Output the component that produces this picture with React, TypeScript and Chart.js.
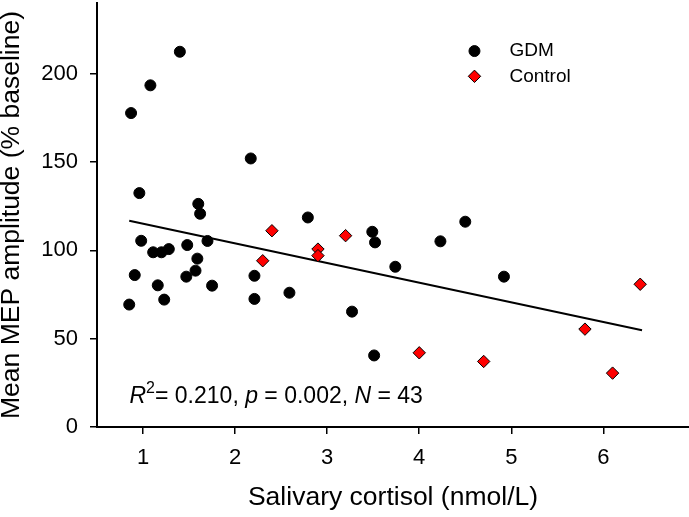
import React, { useEffect, useRef } from 'react';
import { Chart, registerables } from 'chart.js';

Chart.register(...registerables);

// ---- data ----
const seriesLabels = ['GDM', 'Control'];

const gdmX = [1.40, 1.08, 0.87, 2.17, 0.96, 1.60, 1.62, 0.98, 1.11, 1.20, 1.28, 1.48, 1.70, 1.59, 0.91, 1.47, 1.57, 1.16, 1.75, 1.23, 0.85, 2.21, 2.21, 2.59, 2.79, 3.49, 3.52, 4.50, 4.23, 3.74, 3.27, 3.51, 4.92];
const gdmY = [212.4, 193.4, 177.7, 152.0, 132.4, 126.3, 120.7, 105.4, 98.9, 98.9, 100.7, 103.0, 105.3, 95.3, 86.0, 85.1, 88.5, 80.2, 80.0, 72.1, 69.3, 85.6, 72.5, 76.0, 118.6, 110.5, 104.5, 116.2, 105.1, 90.7, 65.3, 40.5, 85.1];

const ctrlX = [2.30, 2.40, 2.90, 2.90, 3.20, 4.00, 4.70, 5.80, 6.10, 6.40];
const ctrlY = [94.1, 111.1, 100.7, 97.0, 108.3, 42.0, 37.1, 55.4, 30.5, 80.8];

const regX = [0.85, 6.42];
const regY = [116.7, 54.8];

const xTicks = [1, 2, 3, 4, 5, 6];
const yTicks = [0, 50, 100, 150, 200];

const xTitle = 'Salivary cortisol (nmol/L)';
const yTitle = 'Mean MEP amplitude (% baseline)';

const statSegments = [
  { text: 'R', italic: true, sup: false },
  { text: '2', italic: false, sup: true },
  { text: '= 0.210, ', italic: false, sup: false },
  { text: 'p', italic: true, sup: false },
  { text: ' = 0.002, ', italic: false, sup: false },
  { text: 'N', italic: true, sup: false },
  { text: ' = 43', italic: false, sup: false },
];

// annotation / legend anchors (in data units)
const statAnchor = { x: 0.853, y: 13.4 };
const legendAnchorX = 4.6;
const legendAnchorY = [212.8, 198.5];

const FAMILY = '"Liberation Sans", Arial, sans-serif';

const markerStyles = [
  { shape: 'circle', radius: 5.5, fill: '#000000', stroke: '#000000' },
  { shape: 'rectRot', radius: 6.2, fill: '#ff0000', stroke: '#000000' },
];

function drawMarker(ctx: CanvasRenderingContext2D, shape: string, x: number, y: number, r: number, fill: string, stroke: string) {
  ctx.beginPath();
  if (shape === 'circle') {
    ctx.arc(x, y, r, 0, Math.PI * 2);
  } else {
    ctx.moveTo(x - r, y);
    ctx.lineTo(x, y - r);
    ctx.lineTo(x + r, y);
    ctx.lineTo(x, y + r);
    ctx.closePath();
  }
  ctx.fillStyle = fill;
  ctx.fill();
  ctx.lineWidth = 1;
  ctx.strokeStyle = stroke;
  ctx.stroke();
}

const statsPlugin = {
  id: 'statsText',
  afterDatasetsDraw(chart: any) {
    const { ctx, scales } = chart;
    let px = scales.x.getPixelForValue(statAnchor.x);
    const py = scales.y.getPixelForValue(statAnchor.y);
    ctx.save();
    ctx.fillStyle = '#000';
    ctx.textAlign = 'left';
    ctx.textBaseline = 'alphabetic';
    for (const seg of statSegments) {
      ctx.font = `${seg.italic ? 'italic ' : ''}${seg.sup ? 16 : 23}px ${FAMILY}`;
      ctx.fillText(seg.text, px, py - (seg.sup ? 10 : 0));
      px += ctx.measureText(seg.text).width;
    }
    ctx.restore();
  },
};

const legendPlugin = {
  id: 'customLegend',
  afterDraw(chart: any) {
    const { ctx, scales } = chart;
    const mx = scales.x.getPixelForValue(legendAnchorX);
    ctx.save();
    seriesLabels.forEach((label, i) => {
      const my = scales.y.getPixelForValue(legendAnchorY[i]);
      const m = markerStyles[i];
      drawMarker(ctx, m.shape, mx, my, m.radius, m.fill, m.stroke);
      ctx.fillStyle = '#000';
      ctx.font = `19px ${FAMILY}`;
      ctx.textAlign = 'left';
      ctx.textBaseline = 'middle';
      ctx.fillText(label, mx + 35, my);
    });
    ctx.restore();
  },
};

export default function App() {
  const canvasRef = useRef<HTMLCanvasElement | null>(null);

  useEffect(() => {
    if (!canvasRef.current) return;
    const chart = new Chart(canvasRef.current, {
      type: 'scatter',
      data: {
        datasets: [
          {
            label: seriesLabels[0],
            data: gdmX.map((x, i) => ({ x, y: gdmY[i] })),
            pointStyle: 'circle',
            pointRadius: markerStyles[0].radius,
            backgroundColor: markerStyles[0].fill,
            borderColor: markerStyles[0].stroke,
            borderWidth: 1,
            order: 1,
          },
          {
            label: seriesLabels[1],
            data: ctrlX.map((x, i) => ({ x, y: ctrlY[i] })),
            pointStyle: 'rectRot',
            pointRadius: markerStyles[1].radius,
            backgroundColor: markerStyles[1].fill,
            borderColor: markerStyles[1].stroke,
            borderWidth: 1,
            order: 2,
          },
          {
            label: 'Regression',
            data: regX.map((x, i) => ({ x, y: regY[i] })),
            showLine: true,
            pointRadius: 0,
            borderColor: '#000000',
            borderWidth: 2,
            fill: false,
            order: 3,
          } as any,
        ],
      },
      options: {
        responsive: false,
        animation: false,
        events: [],
        layout: { autoPadding: false, padding: { top: 3, right: 0, left: 0, bottom: 0 } },
        plugins: { legend: { display: false }, tooltip: { enabled: false } },
        scales: {
          x: {
            type: 'linear',
            min: 0.5,
            max: 6.93,
            afterBuildTicks: (s: any) => {
              s.ticks = xTicks.map((v) => ({ value: v }));
            },
            afterFit: (s: any) => {
              s.height = 90;
              s.paddingLeft = 0;
              s.paddingRight = 0;
            },
            grid: { drawOnChartArea: false, drawTicks: true, tickLength: 7, color: '#000', lineWidth: 1.5 },
            border: { display: true, color: '#000', width: 2 },
            ticks: { color: '#000', font: { size: 22, family: FAMILY }, padding: 11, maxRotation: 0, autoSkip: false },
            title: { display: true, text: xTitle, color: '#000', font: { size: 26.5, family: FAMILY }, padding: { top: 0, bottom: 3 } },
          },
          y: {
            type: 'linear',
            min: 0,
            max: 240,
            afterBuildTicks: (s: any) => {
              s.ticks = yTicks.map((v) => ({ value: v }));
            },
            afterFit: (s: any) => {
              s.width = 97;
              s.paddingTop = 0;
              s.paddingBottom = 0;
            },
            grid: { drawOnChartArea: false, drawTicks: true, tickLength: 7, color: '#000', lineWidth: 1.5 },
            border: { display: true, color: '#000', width: 2 },
            ticks: { color: '#000', font: { size: 22, family: FAMILY }, padding: 12, autoSkip: false },
            title: { display: true, text: yTitle, color: '#000', font: { size: 26.5, family: FAMILY, lineHeight: 0.85 }, padding: { top: 0, bottom: 0 } },
          },
        },
      } as any,
      plugins: [statsPlugin, legendPlugin],
    });
    return () => chart.destroy();
  }, []);

  return (
    <div style={{ position: 'absolute', left: 0, top: 0, width: 689, height: 517, background: '#fff' }}>
      <canvas ref={canvasRef} width={689} height={517} />
    </div>
  );
}
